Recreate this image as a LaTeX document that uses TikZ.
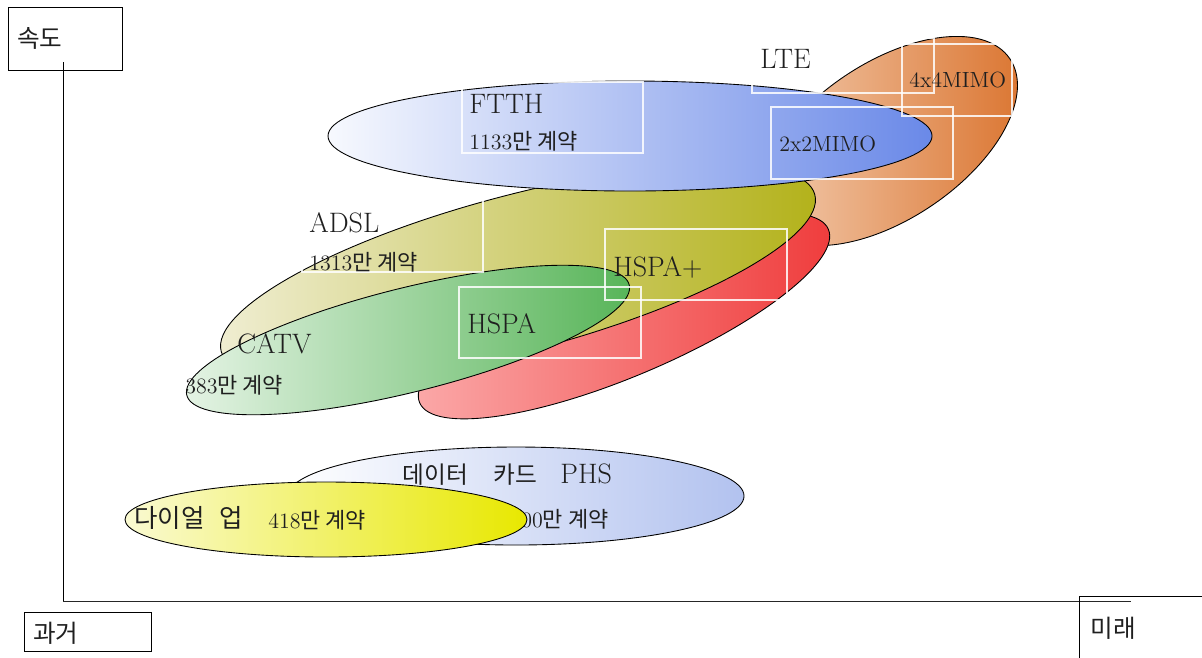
\documentclass[tikz,border=0pt]{standalone}
\usepackage{fontspec}
\newfontfamily\kr{Noto Sans CJK KR}
\usepackage{xcolor}
\usepackage{tikz}
\usetikzlibrary{positioning}
\definecolor{lteclaro}{HTML}{F4D2B8}
\definecolor{lteoscuro}{HTML}{DA722C}
\definecolor{rojoclaro}{HTML}{FBAAAA}
\definecolor{rojooscuro}{HTML}{EF3A3A}
\definecolor{adslclaro}{HTML}{F0EED4}
\definecolor{adsloscuro}{HTML}{B2B118}
\definecolor{ftthclaro}{HTML}{F7F9FE}
\definecolor{ftthoscuro}{HTML}{6A89E8}
\definecolor{catvclaro}{HTML}{E6F4E6}
\definecolor{catvoscuro}{HTML}{56B457}
\definecolor{phsoscuro}{HTML}{B2C2EF}
\definecolor{dialclaro}{HTML}{FAFAD2}
\definecolor{dialoscuro}{HTML}{E8E800}

\begin{document}
\begin{tikzpicture}[x=0.02cm,y=-0.02cm,
        oval/.style={draw=black, line width=0.5pt},
        marco/.style={draw=white, line width=0.7pt, draw opacity=0.85},
        texto/.style={anchor=base west, inner sep=0pt, text=black!88},
        grande/.style={font=\fontsize{16}{18}\selectfont},
        chico/.style={font=\fontsize{12.5}{14}\selectfont},
        hangul/.style={font=\kr\fontsize{14}{16}\selectfont}]
        \useasboundingbox (0,0) rectangle (1202,657);
        % Ejes
        \coordinate (ytop) at (63,62);
        \coordinate (origen) at (63,601.5);
        \coordinate (xend) at (1131,601.5);
        \draw[line width=0.5pt] (ytop) -- (origen); % eje vertical
        \draw[line width=1.1pt, black!85] (origen) -- (xend); % eje horizontal
        \draw[line width=0.5pt] (8,7) rectangle (122,70);
        \node[texto, hangul] (sokdo) at (17,47) {속도};
        \draw[line width=0.5pt] (24,612) rectangle (151,651);
        \node[texto, hangul] (gwageo) at (33,642) {과거};
        \draw[line width=0.5pt] (1079,596) rectangle (1215,670);
        \node[texto, hangul] (mirae) at (1090,637) {미래};
        % LTE
        \draw[oval, left color=lteclaro, right color=lteoscuro,
              rotate around={34:(888,141)}] (888,141) ellipse [x radius=147, y radius=78];
        % HSPA+
        \draw[oval, left color=rojoclaro, right color=rojooscuro,
              rotate around={23:(624,316)}] (624,316) ellipse [x radius=222, y radius=60];
        % ADSL
        \draw[oval, left color=adslclaro, right color=adsloscuro,
              rotate around={14.8:(518,273)}] (518,273) ellipse [x radius=307, y radius=78];
        % FTTH
        \draw[oval, left color=ftthclaro, right color=ftthoscuro]
              (630,136) ellipse [x radius=302, y radius=55];
        % CATV
        \draw[oval, left color=catvclaro, right color=catvoscuro,
              rotate around={14:(408,340)}] (408,340) ellipse [x radius=228, y radius=52];
        % PHS
        \draw[oval, left color=white, right color=phsoscuro]
              (516,496) ellipse [x radius=228, y radius=49];
        \node[texto, chico] (phsnum) at (521,527) {00{\kr 만\ 계약}};
        \node[texto] (phs) at (402,483) {{\kr\fontsize{13.5}{15}\selectfont 데이터\hspace{1.1em}카드}\hspace{1.3em}{\fontsize{16}{18}\selectfont PHS}};
        % Dial-up
        \draw[oval, left color=dialclaro, right color=dialoscuro]
              (326,519.5) ellipse [x radius=201, y radius=37.5];
        \node[texto] (dialup) at (134,527) {\kr\fontsize{14.5}{17}\selectfont 다이얼\hspace{0.6em}업};
        \node[texto, chico] (dialnum) at (268,528) {418{\kr 만\ 계약}};
        % Cajas blancas
        \draw[marco] (752,38) rectangle (934,93);
        \draw[marco] (902,44) rectangle (1012,116);
        \draw[marco] (771,107) rectangle (953,179);
        \draw[marco] (462,82) rectangle (643,153);
        \draw[marco] (302,200) rectangle (483,272);
        \draw[marco] (459,287) rectangle (641,358);
        \draw[marco] (605,229) rectangle (787,300);
        % Textos
        \node[texto, grande] (lte) at (760,68) {LTE};
        \node[texto, chico] (mimo4) at (909,87) {4x4MIMO};
        \node[texto, chico] (mimo2) at (779,151) {2x2MIMO};
        \node[texto, grande] (ftth) at (469,113) {FTTH};
        \node[texto, chico] (ftthnum) at (469,149) {1133{\kr 만\ 계약}};
        \node[texto, grande] (adsl) at (309,232) {ADSL};
        \node[texto, chico] (adslnum) at (309,270) {1313{\kr 만\ 계약}};
        \node[texto, grande] (hspap) at (613,276) {HSPA+};
        \node[texto, grande] (hspa) at (467,333) {HSPA};
        \node[texto, grande] (catv) at (237,353) {CATV};
        \node[texto, chico] (catvnum) at (185,393) {383{\kr 만\ 계약}};
\end{tikzpicture}
\end{document}
